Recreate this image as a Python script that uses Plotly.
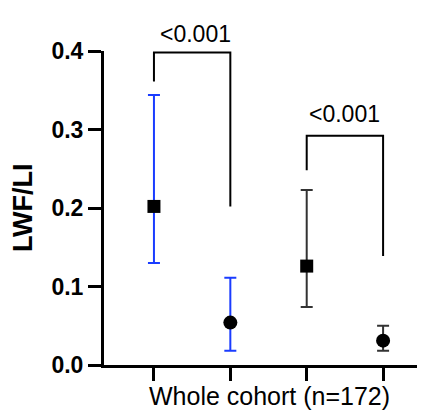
import plotly.graph_objects as go

positions = [1, 2, 3, 4]
means = [0.202, 0.054, 0.126, 0.031]
upper = [0.344, 0.111, 0.223, 0.050]
lower = [0.130, 0.018, 0.074, 0.018]
symbols = ["square", "circle", "square", "circle"]
err_colors = ["#1a3cff", "#1a3cff", "#333333", "#333333"]
marker_sizes = [13, 14, 13, 14]

bracket1_x = [1, 1, 2, 2]
bracket1_y = [0.361, 0.398, 0.398, 0.202]
bracket2_x = [3, 3, 4, 4]
bracket2_y = [0.248, 0.292, 0.292, 0.139]
pval_text = ["<0.001", "<0.001"]
pval_x = [1.55, 3.497]
pval_y = [0.4217, 0.3197]

Y_MAX = 0.4
FONT = "Liberation Sans"
fig = go.Figure()

for i in range(len(positions)):
    fig.add_trace(go.Scatter(
        x=[positions[i]], y=[means[i]], mode="markers",
        marker=dict(symbol=symbols[i], size=marker_sizes[i], color="black"),
        error_y=dict(type="data", symmetric=False,
                     array=[upper[i] - means[i]], arrayminus=[means[i] - lower[i]],
                     color=err_colors[i], thickness=2, width=6),
        showlegend=False, cliponaxis=False,
    ))

for bx, by in [(bracket1_x, bracket1_y), (bracket2_x, bracket2_y)]:
    fig.add_trace(go.Scatter(x=bx, y=by, mode="lines",
                             line=dict(color="black", width=2),
                             showlegend=False, hoverinfo="skip"))

for t, px, py in zip(pval_text, pval_x, pval_y):
    fig.add_annotation(x=px, y=py / Y_MAX, xref="x", yref="paper", text=t, showarrow=False,
                       xanchor="center", yanchor="middle",
                       font=dict(family=FONT, size=23, color="black"))

fig.add_annotation(x=(269.5 - 104) / 313, y=-0.1, xref="paper", yref="paper",
                   text="Whole cohort (n=172)", showarrow=False,
                   xanchor="center", yanchor="middle",
                   font=dict(family=FONT, size=25, color="black"))
fig.add_annotation(x=(23 - 104) / 313, y=0.5, xref="paper", yref="paper",
                   text="<b>LWF/LI</b>", showarrow=False, textangle=-90,
                   xanchor="center", yanchor="middle",
                   font=dict(family=FONT, size=27, color="black"))

fig.update_layout(
    width=430, height=418,
    margin=dict(l=104, r=13, t=51, b=53),
    paper_bgcolor="white", plot_bgcolor="white",
    xaxis=dict(range=[0.346, 4.444], tickvals=positions, ticktext=["", "", "", ""],
               ticks="outside", ticklen=13, tickwidth=3, tickcolor="black",
               showline=True, linewidth=3, linecolor="black",
               showgrid=False, zeroline=False),
    yaxis=dict(range=[0, Y_MAX], dtick=0.1, tickformat=".1f",
               ticks="outside", ticklen=13, tickwidth=3, tickcolor="black",
               showline=True, linewidth=3, linecolor="black",
               showgrid=False, zeroline=False,
               tickfont=dict(family=FONT, size=23, color="black", weight="bold")),
)

fig.write_html("out.html")
